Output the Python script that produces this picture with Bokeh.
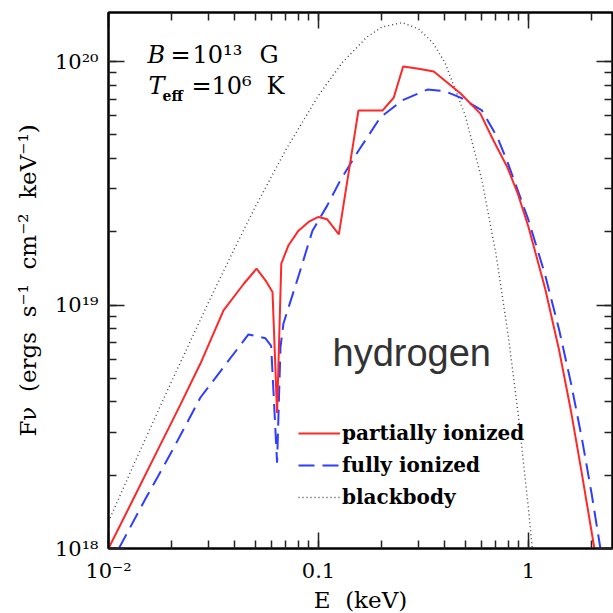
import math
from bokeh.plotting import figure
from bokeh.models import LogAxis, LogTicker, Label, Range1d, CustomJSTickFormatter
from bokeh.embed import file_html
from bokeh.resources import INLINE

# ---- data ----
red_E = [0.01, 0.013, 0.017, 0.022, 0.0274, 0.0353, 0.044, 0.0507, 0.056, 0.0604,
         0.0635, 0.0665, 0.072, 0.0803, 0.09, 0.1, 0.11, 0.125, 0.155, 0.202,
         0.228, 0.253, 0.3, 0.354, 0.475, 0.59, 0.681, 0.794, 0.889, 1.0,
         1.2, 1.4, 1.6, 1.8, 2.06]
red_F = [1.0e18, 1.57e18, 2.5e18, 3.9e18, 5.75e18, 9.5e18, 1.22e19, 1.41e19, 1.26e19, 1.13e19,
         3.6e18, 1.48e19, 1.76e19, 2.02e19, 2.2e19, 2.3e19, 2.25e19, 1.95e19, 6.3e19, 6.3e19,
         7.1e19, 9.54e19, 9.35e19, 9.1e19, 7.39e19, 6.11e19, 4.74e19, 3.67e19, 2.87e19, 2.09e19,
         1.17e19, 6.5e18, 3.6e18, 2.0e18, 1.0e18]

blue_E = [0.0112, 0.015, 0.02, 0.0274, 0.035, 0.0464, 0.0559, 0.0595, 0.0635, 0.0659,
          0.0681, 0.08, 0.0936, 0.11, 0.127, 0.155, 0.197, 0.25, 0.33, 0.4,
          0.475, 0.6, 0.712, 0.8, 0.915, 1.0, 1.2, 1.4, 1.6, 1.8, 2.0, 2.2]
blue_F = [1.0e18, 1.6e18, 2.5e18, 4.17e18, 5.5e18, 7.57e18, 7.3e18, 6.8e18, 2.25e18, 6.7e18,
          8.4e18, 1.3e19, 2.02e19, 2.56e19, 3.25e19, 4.3e19, 5.89e19, 6.92e19, 7.67e19, 7.55e19,
          7.11e19, 6.3e19, 4.87e19, 3.8e19, 2.76e19, 2.23e19, 1.33e19, 7.9e18, 4.7e18, 2.8e18, 1.67e18, 1.0e18]

bb_E = [0.01, 0.013, 0.017, 0.02, 0.03, 0.04, 0.05, 0.07, 0.1, 0.13, 0.17, 0.2, 0.25,
        0.3, 0.35, 0.4, 0.5, 0.6, 0.7, 0.8, 0.9, 1.0, 1.05]
bb_F = [1.29e18, 2.15e18, 3.58e18, 4.87e18, 1.03e19, 1.72e19, 2.53e19, 4.35e19, 7.26e19, 9.92e19,
        1.26e20, 1.385e20, 1.445e20, 1.36e20, 1.195e20, 9.9e19, 6.0e19, 3.26e19, 1.62e19, 7.55e18,
        3.38e18, 1.45e18, 9.4e17]

series_labels = ["partially ionized", "fully ionized", "blackbody"]
NB = "\u00a0"
x_title = "E" + NB + " (keV)"
y_title = ("F\u03bd" + NB + " (ergs" + NB + " s\u207b\u00b9" + NB + " cm\u207b\u00b2"
           + NB + " keV\u207b\u00b9)")
x_lo, x_hi = 0.01, 2.512
y_lo, y_hi = 1e18, 1.59e20

SERIF = "DejaVu Serif"

p = figure(x_axis_type="log", y_axis_type="log",
           x_range=Range1d(x_lo, x_hi), y_range=Range1d(y_lo, y_hi),
           frame_width=504, frame_height=536,
           min_border_left=108, min_border_right=1, min_border_top=12, min_border_bottom=65,
           output_backend="svg", toolbar_location=None)
p.background_fill_color = "white"
p.border_fill_color = "white"
p.outline_line_color = "black"
p.outline_line_width = 2
p.xgrid.visible = False
p.ygrid.visible = False

xfmt = CustomJSTickFormatter(code="""
const e = Math.round(Math.log10(tick));
if (e == -2) return "10\u207b\u00b2";
if (e == -1) return "0.1";
if (e == 0) return "1";
return " ";
""")
yfmt = CustomJSTickFormatter(code="""
const e = Math.round(Math.log10(tick));
const sup = {"0":"\u2070","1":"\u00b9","2":"\u00b2","3":"\u00b3","4":"\u2074","5":"\u2075","6":"\u2076","7":"\u2077","8":"\u2078","9":"\u2079"};
let s = "";
for (const c of String(e)) s += sup[c];
return "10" + s;
""")

def style_axis(ax, labels=True):
    ax.ticker = LogTicker(mantissas=[1], num_minor_ticks=10)
    ax.axis_line_color = "black"
    ax.axis_line_width = 2
    ax.major_tick_in = 16
    ax.major_tick_out = 0
    ax.minor_tick_in = 8
    ax.minor_tick_out = 0
    ax.major_tick_line_width = 1.5
    ax.minor_tick_line_width = 1.5
    ax.major_tick_line_color = "#222222"
    ax.minor_tick_line_color = "#222222"
    if labels:
        ax.major_label_text_font = SERIF
        ax.major_label_text_font_size = "21px"
        ax.major_label_text_color = "black"
        ax.major_label_standoff = 10
        ax.axis_label_text_font = SERIF
        ax.axis_label_text_font_size = "23px"
        ax.axis_label_text_font_style = "normal"
        ax.axis_label_text_color = "black"
    else:
        ax.major_label_text_font_size = "1px"
        ax.major_label_text_alpha = 0
        ax.major_label_standoff = 0

xa = p.xaxis[0]
ya = p.yaxis[0]
style_axis(xa)
style_axis(ya)
xa.formatter = xfmt
ya.formatter = yfmt
xa.axis_label = x_title
ya.axis_label = y_title
xa.axis_label_standoff = 1
ya.axis_label_standoff = 11

top = LogAxis()
right = LogAxis()
style_axis(top, labels=False)
style_axis(right, labels=False)
p.add_layout(top, "above")
p.add_layout(right, "right")

# curves
p.line(bb_E, bb_F, line_color="#444444", line_width=1.4, line_dash="1 3",
       legend_label=series_labels[2])
p.line(blue_E, blue_F, line_color="#2f3dff", line_width=2, line_dash="16 8",
       legend_label=series_labels[1])
p.line(red_E, red_F, line_color="#ff2828", line_width=2,
       legend_label=series_labels[0])

lg = p.legend[0]
items = list(lg.items)
lg.items = [items[2], items[1], items[0]]
lg.location = (190, 39)
lg.padding = 0
lg.margin = 0
lg.spacing = 8
lg.label_height = 20
lg.glyph_height = 20
lg.glyph_width = 42
lg.label_standoff = 2
lg.background_fill_alpha = 0
lg.border_line_alpha = 0
lg.label_text_font = SERIF
lg.label_text_font_style = "bold"
lg.label_text_font_size = "20px"
lg.label_text_color = "black"

# helper to convert pixel positions (within 613x613 image) to data coords
def dx(px):
    return x_lo * 10 ** ((px - 108) / 210.0)

def dy(py):
    return y_lo * 10 ** ((548 - py) / 243.5)

def lab(text, px, py, size, style="normal", font=SERIF, align="left",
        baseline="middle", color="black"):
    p.add_layout(Label(x=dx(px), y=dy(py), text=text, text_font=font,
                       text_font_size=size, text_font_style=style,
                       text_align=align, text_baseline=baseline, text_color=color))

# B = 10^13 G
lab("B", 147, 54, "24px", "italic")
lab("=", 170, 54, "24px")
lab("10\u00b9\u00b3", 192, 54, "24px")
lab("G", 259, 54, "24px")
# T_eff = 10^6 K
lab("T", 148, 85, "24px", "italic")
lab("eff", 162, 95, "14px", "bold")
lab("=", 191, 85, "24px")
lab("10\u2076", 211, 85, "24px")
lab("K", 266, 85, "24px")

# hydrogen
lab("hydrogen", 332, 352, "38px", font="Liberation Sans", color="#333333")

open("out.html", "w").write(file_html(p, INLINE))
